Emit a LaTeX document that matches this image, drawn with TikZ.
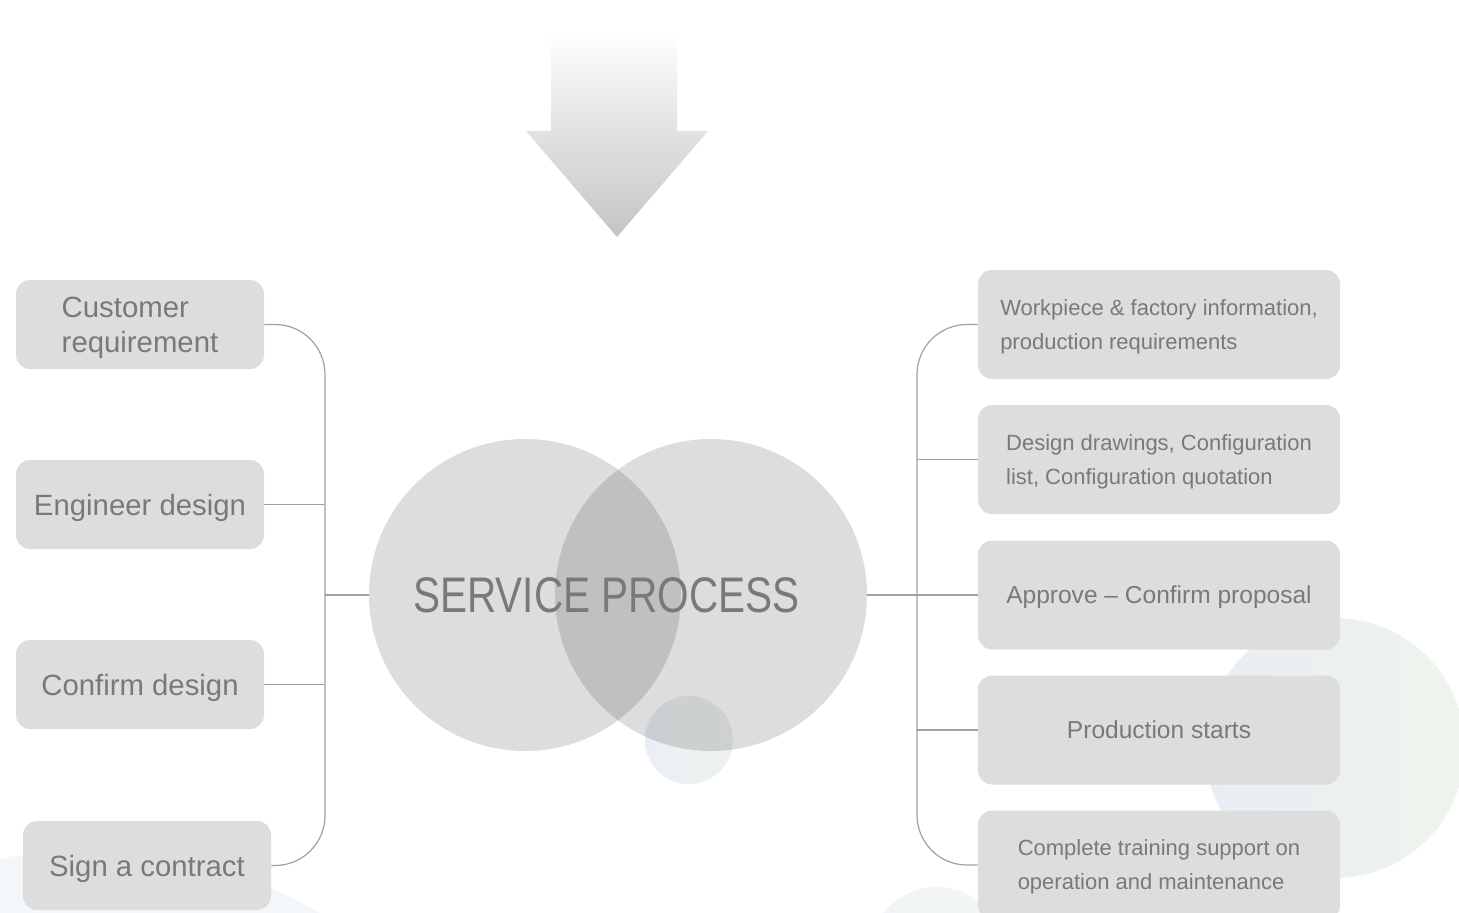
\documentclass[tikz,border=0pt]{standalone}
\usepackage{fontspec}
\setmainfont{Liberation Sans}
\newfontfamily\titlefont[FakeStretch=0.81]{Liberation Sans}
\usetikzlibrary{calc}
\definecolor{boxfill}{HTML}{DDDDDD}
\definecolor{txt}{HTML}{797979}
\definecolor{lineclr}{HTML}{A0A0A0}
\definecolor{arrowgray}{HTML}{C4C4C4}
\definecolor{arrowmid}{HTML}{EDEDED}
\definecolor{bgblue}{HTML}{E8EEF4}
\definecolor{bggreen}{HTML}{EEF4EC}
\definecolor{bgfaint}{HTML}{F4F7FA}
\definecolor{bgfaint2}{HTML}{EEF3F6}
\definecolor{smallL}{HTML}{E9EFF4}
\definecolor{smallR}{HTML}{EEF2EE}
\begin{document}
\begin{tikzpicture}[x=0.75pt,y=-0.75pt,
  lbox/.style={fill=boxfill, rounded corners=10.5pt, minimum width=186pt, minimum height=66.75pt, inner sep=0pt, text depth=0pt, align=left, text=txt, font=\fontsize{22pt}{26.25pt}\selectfont},
  rbox/.style={fill=boxfill, rounded corners=10.5pt, minimum width=271.5pt, minimum height=81.75pt, inner sep=0pt, text depth=0pt, align=left, text=txt, font=\fontsize{16.5pt}{25.5pt}\selectfont},
  rbig/.style={rbox, font=\fontsize{18.4pt}{22pt}\selectfont},
  conn/.style={draw=lineclr, line width=0.9pt},
  venn/.style={circle, fill=black, fill opacity=0.133, minimum size=234pt, inner sep=0pt}
]
\useasboundingbox (0,0) rectangle (1459,913);
\clip (0,0) rectangle (1459,913);
% background decorations
\fill[bgfaint] (90,1300) circle (337.5pt);
\shade[left color=bgfaint2, right color=bggreen!60!white] (937,956) circle (51.75pt);
\shade[left color=bgblue, right color=bggreen] (1335,748) circle (97.5pt);
% top arrow
\shade[top color=white, middle color=arrowmid, bottom color=arrowgray]
  (551,30) -- (677,30) -- (677,131) -- (708,131) -- (617,237) -- (526,131) -- (551,131) -- cycle;
% small circle
\shade[left color=smallL, right color=smallR] (689,740) circle (33pt);
% venn circles
\node[venn] (c1) at (525,595) {};
\node[venn] (c2) at (711,595) {};
\node[text=txt, font=\titlefont\fontsize{37.5pt}{40pt}\selectfont, inner sep=0pt] (title) at (606.5,595) {SERVICE PROCESS};
% left boxes
\node[lbox] (cust) at (140,324.5) {Customer\\requirement};
\node[lbox] (eng) at (140,504.5) {Engineer design};
\node[lbox] (conf) at (140,684.5) {Confirm design};
\node[lbox] (sign) at (147,865.5) {Sign a contract};
% right boxes
\node[rbox] (r1) at (1159,324.5) {Workpiece \& factory information,\\production requirements};
\node[rbox] (r2) at (1159,459.5) {Design drawings, Configuration\\list, Configuration quotation};
\node[rbig] (r3) at (1159,595) {Approve – Confirm proposal};
\node[rbig] (r4) at (1159,730) {Production starts};
\node[rbox] (r5) at (1159,865) {Complete training support on\\operation and maintenance};
% trunks
\coordinate (lt) at (325,595);
\coordinate (rt) at (917,595);
\draw[conn, rounded corners=37.5pt] (cust.east) -| (lt) |- (sign.east);
\draw[conn] (eng.east) -- (eng.east -| lt);
\draw[conn] (conf.east) -- (conf.east -| lt);
\draw[conn] (lt) -- (c1.west);
\draw[conn, rounded corners=37.5pt] (r1.west) -| (rt) |- (r5.west);
\draw[conn] (r2.west) -- (r2.west -| rt);
\draw[conn] (r4.west) -- (r4.west -| rt);
\draw[conn] (c2.east) -- (r3.west);
\end{tikzpicture}
\end{document}
